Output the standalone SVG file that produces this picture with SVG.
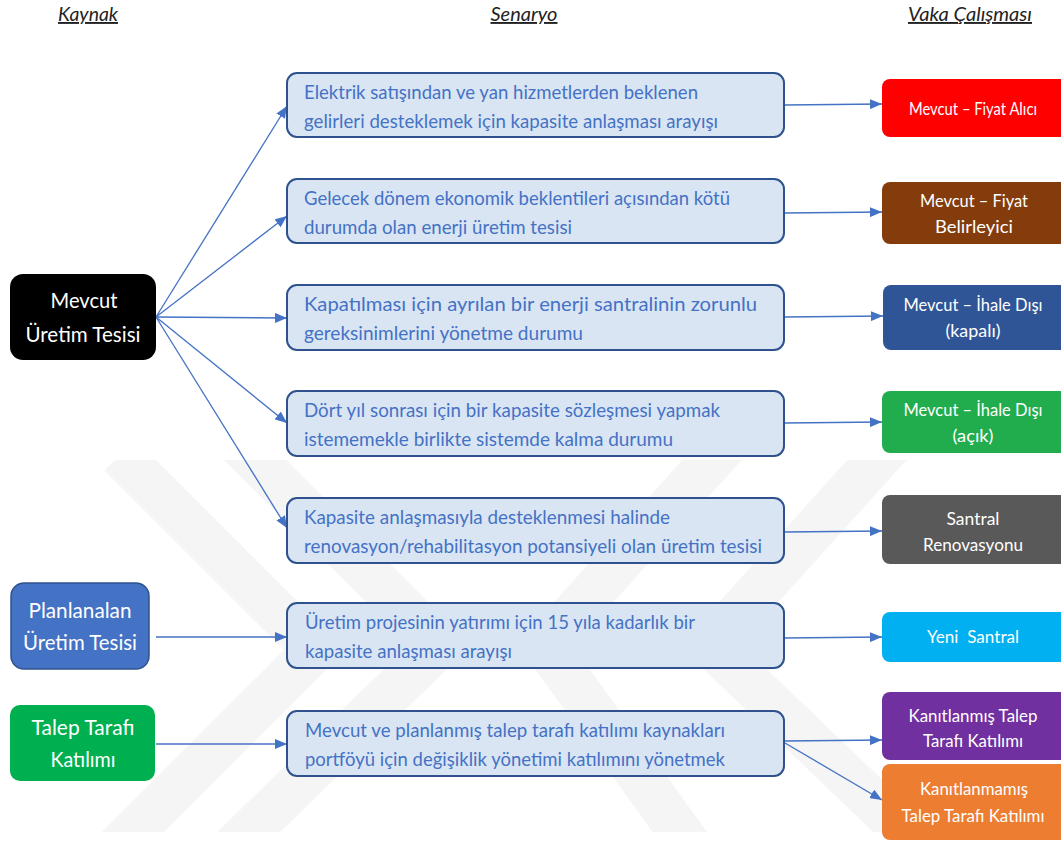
<svg xmlns="http://www.w3.org/2000/svg" width="1061" height="842" viewBox="0 0 1061 842">
<style>
  text { font-family: Lato, "Open Sans", "Liberation Sans", sans-serif; }
  .hdr { font-size: 19px; font-style: italic; text-decoration: underline; fill: #222; }
  .src { font-size: 22px; fill: #ffffff; text-anchor: middle; }
  .mid { fill: #DAE5F4; stroke: #2F528F; stroke-width: 2; }
  .mt { font-size: 19px; fill: #4472C4; }
  .rt { font-size: 17px; fill: #ffffff; text-anchor: middle; }
  .conn { stroke: #4472C4; stroke-width: 1.3; fill: none; marker-end: url(#arr); }
  .wm { fill: none; stroke: #f5f5f5; stroke-width: 44; stroke-linejoin: miter; }
</style>
<defs>
  <marker id="arr" viewBox="0 0 12 10" refX="12" refY="5" markerWidth="12" markerHeight="10" markerUnits="userSpaceOnUse" orient="auto">
    <path d="M0,0 L12,5 L0,10 z" fill="#4472C4"/>
  </marker>
  <clipPath id="wmclip">
    <rect x="0" y="460" width="1061" height="372"/>
  </clipPath>
</defs>
<rect width="1061" height="842" fill="#ffffff"/>
<g id="watermark" clip-path="url(#wmclip)">
  <polyline class="wm" points="235,440 440,645 210,870"/>
  <polyline class="wm" points="120,455 315,650 95,870"/>
  <polyline class="wm" points="730,440 545,645 700,860"/>
  <polyline class="wm" points="895,440 710,645 955,880"/>
</g>
<g id="headers">
  <text class="hdr" x="88" y="21" text-anchor="middle" textLength="60" lengthAdjust="spacingAndGlyphs">Kaynak</text>
  <text class="hdr" x="524" y="21" text-anchor="middle" textLength="67" lengthAdjust="spacingAndGlyphs">Senaryo</text>
  <text class="hdr" x="970" y="21" text-anchor="middle" textLength="124" lengthAdjust="spacingAndGlyphs">Vaka Çalışması</text>
</g>
<g id="connectors">
  <line class="conn" x1="156" y1="317" x2="287" y2="106"/>
  <line class="conn" x1="156" y1="317" x2="287" y2="216"/>
  <line class="conn" x1="156" y1="317" x2="287" y2="318"/>
  <line class="conn" x1="156" y1="317" x2="287" y2="423"/>
  <line class="conn" x1="156" y1="317" x2="287" y2="528"/>
  <line class="conn" x1="156" y1="637" x2="287" y2="637"/>
  <line class="conn" x1="156" y1="744" x2="287" y2="744"/>
  <line class="conn" x1="785" y1="105" x2="882" y2="104"/>
  <line class="conn" x1="785" y1="213" x2="882" y2="212"/>
  <line class="conn" x1="785" y1="317" x2="883" y2="316"/>
  <line class="conn" x1="785" y1="423" x2="882" y2="422"/>
  <line class="conn" x1="785" y1="532" x2="882" y2="531"/>
  <line class="conn" x1="785" y1="638" x2="882" y2="637"/>
  <line class="conn" x1="785" y1="741" x2="882" y2="740"/>
  <line class="conn" x1="785" y1="743" x2="882" y2="800"/>
</g>
<g id="src-mevcut">
  <rect x="10" y="274" width="146" height="86" rx="13" fill="#000000"/>
  <text class="src" x="84" y="308" textLength="67" lengthAdjust="spacingAndGlyphs">Mevcut</text>
  <text class="src" x="83" y="342" textLength="115" lengthAdjust="spacingAndGlyphs">Üretim Tesisi</text>
</g>
<g id="src-planlanan">
  <rect x="11" y="583" width="138" height="86" rx="13" fill="#4472C4" stroke="#2F528F" stroke-width="1.5"/>
  <text class="src" x="80" y="618" textLength="103" lengthAdjust="spacingAndGlyphs">Planlanalan</text>
  <text class="src" x="80" y="650" textLength="114" lengthAdjust="spacingAndGlyphs">Üretim Tesisi</text>
</g>
<g id="src-talep">
  <rect x="10" y="705" width="145" height="76" rx="10" fill="#00B050"/>
  <text class="src" x="83" y="735" textLength="103" lengthAdjust="spacingAndGlyphs">Talep Tarafı</text>
  <text class="src" x="83" y="767" textLength="65" lengthAdjust="spacingAndGlyphs">Katılımı</text>
</g>
<g id="s1">
  <rect class="mid" x="287" y="73" width="497" height="64" rx="10"/>
  <text class="mt" x="304" y="99" textLength="394" lengthAdjust="spacingAndGlyphs">Elektrik satışından ve yan hizmetlerden beklenen</text>
  <text class="mt" x="304" y="128" textLength="414" lengthAdjust="spacingAndGlyphs">gelirleri desteklemek için kapasite anlaşması arayışı</text>
</g>
<g id="s2">
  <rect class="mid" x="287" y="179" width="497" height="64" rx="10"/>
  <text class="mt" x="304" y="205" textLength="426" lengthAdjust="spacingAndGlyphs">Gelecek dönem ekonomik beklentileri açısından kötü</text>
  <text class="mt" x="304" y="234" textLength="268" lengthAdjust="spacingAndGlyphs">durumda olan enerji üretim tesisi</text>
</g>
<g id="s3">
  <rect class="mid" x="287" y="285" width="497" height="65" rx="10"/>
  <text class="mt" x="304" y="311" textLength="453" lengthAdjust="spacingAndGlyphs">Kapatılması için ayrılan bir enerji santralinin zorunlu</text>
  <text class="mt" x="304" y="340" textLength="279" lengthAdjust="spacingAndGlyphs">gereksinimlerini yönetme durumu</text>
</g>
<g id="s4">
  <rect class="mid" x="287" y="391" width="497" height="65" rx="10"/>
  <text class="mt" x="304" y="417" textLength="416" lengthAdjust="spacingAndGlyphs">Dört yıl sonrası için bir kapasite sözleşmesi yapmak</text>
  <text class="mt" x="304" y="446" textLength="369" lengthAdjust="spacingAndGlyphs">istememekle birlikte sistemde kalma durumu</text>
</g>
<g id="s5">
  <rect class="mid" x="287" y="498" width="497" height="65" rx="10"/>
  <text class="mt" x="304" y="524" textLength="366" lengthAdjust="spacingAndGlyphs">Kapasite anlaşmasıyla desteklenmesi halinde</text>
  <text class="mt" x="304" y="553" textLength="458" lengthAdjust="spacingAndGlyphs">renovasyon/rehabilitasyon potansiyeli olan üretim tesisi</text>
</g>
<g id="s6">
  <rect class="mid" x="287" y="603" width="497" height="65" rx="10"/>
  <text class="mt" x="305" y="629" textLength="390" lengthAdjust="spacingAndGlyphs">Üretim projesinin yatırımı için 15 yıla kadarlık bir</text>
  <text class="mt" x="305" y="658" textLength="207" lengthAdjust="spacingAndGlyphs">kapasite anlaşması arayışı</text>
</g>
<g id="s7">
  <rect class="mid" x="287" y="711" width="497" height="65" rx="10"/>
  <text class="mt" x="305" y="737" textLength="420" lengthAdjust="spacingAndGlyphs">Mevcut ve planlanmış talep tarafı katılımı kaynakları</text>
  <text class="mt" x="305" y="766" textLength="420" lengthAdjust="spacingAndGlyphs">portföyü için değişiklik yönetimi katılımını yönetmek</text>
</g>
<g id="c1">
  <rect x="882" y="79" width="190" height="58" rx="8" fill="#FF0000"/>
  <text class="rt" x="973" y="115" textLength="128" lengthAdjust="spacingAndGlyphs">Mevcut – Fiyat Alıcı</text>
</g>
<g id="c2">
  <rect x="882" y="182" width="190" height="62" rx="8" fill="#843C0C"/>
  <text class="rt" x="974" y="207" textLength="108" lengthAdjust="spacingAndGlyphs">Mevcut – Fiyat</text>
  <text class="rt" x="974" y="233" textLength="78" lengthAdjust="spacingAndGlyphs">Belirleyici</text>
</g>
<g id="c3">
  <rect x="883" y="285" width="190" height="65" rx="8" fill="#2F5597"/>
  <text class="rt" x="973" y="311" textLength="139" lengthAdjust="spacingAndGlyphs">Mevcut – İhale Dışı</text>
  <text class="rt" x="973" y="337" textLength="55" lengthAdjust="spacingAndGlyphs">(kapalı)</text>
</g>
<g id="c4">
  <rect x="882" y="391" width="190" height="62" rx="8" fill="#21AD4E"/>
  <text class="rt" x="973" y="416" textLength="139" lengthAdjust="spacingAndGlyphs">Mevcut – İhale Dışı</text>
  <text class="rt" x="973" y="442" textLength="41" lengthAdjust="spacingAndGlyphs">(açık)</text>
</g>
<g id="c5">
  <rect x="882" y="495" width="190" height="69" rx="8" fill="#595959"/>
  <text class="rt" x="973" y="525" textLength="53" lengthAdjust="spacingAndGlyphs">Santral</text>
  <text class="rt" x="973" y="551" textLength="100" lengthAdjust="spacingAndGlyphs">Renovasyonu</text>
</g>
<g id="c6">
  <rect x="882" y="612" width="190" height="50" rx="8" fill="#00B0F0"/>
  <text class="rt" x="973" y="643" textLength="92" lengthAdjust="spacingAndGlyphs" style="white-space:pre">Yeni  Santral</text>
</g>
<g id="c7">
  <rect x="882" y="692" width="190" height="68" rx="8" fill="#7030A0"/>
  <text class="rt" x="973" y="722" textLength="129" lengthAdjust="spacingAndGlyphs">Kanıtlanmış Talep</text>
  <text class="rt" x="973" y="747" textLength="100" lengthAdjust="spacingAndGlyphs">Tarafı Katılımı</text>
</g>
<g id="c8">
  <rect x="882" y="764" width="190" height="76" rx="8" fill="#ED7D31"/>
  <text class="rt" x="974" y="795" textLength="108" lengthAdjust="spacingAndGlyphs">Kanıtlanmamış</text>
  <text class="rt" x="973" y="822" textLength="143" lengthAdjust="spacingAndGlyphs">Talep Tarafı Katılımı</text>
</g>
</svg>
